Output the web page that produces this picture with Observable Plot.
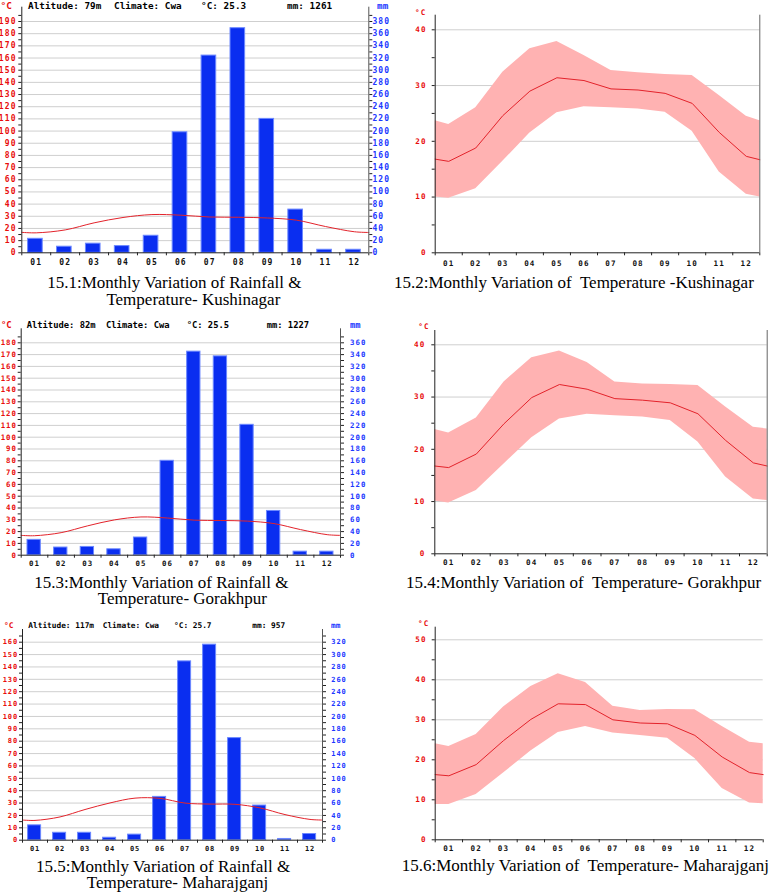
<!DOCTYPE html>
<html>
<head>
<meta charset="utf-8">
<script src="https://cdn.jsdelivr.net/npm/d3@7"></script>
<script src="https://cdn.jsdelivr.net/npm/@observablehq/plot@0.6"></script>
<style>
  html, body { margin: 0; padding: 0; background: #fff; }
  #root { position: relative; width: 774px; height: 893px; overflow: hidden; background: #fff; }
  #root > svg { position: absolute; }
  .mono { position: absolute; font-family: "DejaVu Sans Mono", monospace; font-weight: bold; line-height: 1; white-space: pre; }
  .cap { position: absolute; font-family: "Liberation Serif", "Times New Roman", serif; font-size: 17px; white-space: pre; color: #000; }
</style>
</head>
<body>
<div id="root"></div>
<script>
// ---------------- DATA ----------------
const months = ["01", "02", "03", "04", "05", "06", "07", "08", "09", "10", "11", "12"];
const monthIdx = [1, 2, 3, 4, 5, 6, 7, 8, 9, 10, 11, 12];
// temperature curves run from the left frame edge (0.5) through month centres to the right edge (12.5)
const curvePos = [0.5, 1, 2, 3, 4, 5, 6, 7, 8, 9, 10, 11, 12, 12.5];

// Kushinagar
const kushInfo = ["Altitude: 79m", "Climate: Cwa", "°C: 25.3", "mm: 1261"];
const kushRain = [23, 10, 15, 11, 28, 198, 324, 369, 220, 71, 5, 5];            // mm
const kushMax  = [23.7, 23.0, 26.0, 32.4, 36.6, 37.9, 35.4, 32.7, 32.3, 32.0, 31.8, 28.2, 24.5, 23.7];
const kushMean = [16.8, 16.4, 18.8, 24.6, 29.0, 31.4, 30.9, 29.4, 29.2, 28.6, 26.8, 21.6, 17.3, 16.7];
const kushMin  = [10.0, 9.8, 11.5, 16.4, 21.5, 25.1, 26.2, 26.0, 25.8, 25.2, 21.8, 14.5, 10.5, 10.0];

// Gorakhpur
const gorInfo = ["Altitude: 82m", "Climate: Cwa", "°C: 25.5", "mm: 1227"];
const gorRain = [26, 13, 14, 10, 30, 160, 345, 337, 221, 75, 6, 6];
const gorMax  = [23.8, 23.1, 26.0, 32.9, 37.5, 38.8, 36.6, 32.9, 32.5, 32.4, 32.2, 28.1, 24.2, 23.9];
const gorMean = [16.8, 16.5, 19.1, 24.9, 29.9, 32.4, 31.5, 29.7, 29.4, 28.9, 26.8, 21.7, 17.4, 16.8];
const gorMin  = [10.1, 9.7, 12.1, 17.2, 22.2, 25.8, 26.7, 26.4, 26.2, 25.5, 21.4, 14.7, 10.5, 10.2];

// Maharajganj
const mahInfo = ["Altitude: 117m", "Climate: Cwa", "°C: 25.7", "mm: 957"];
const mahRain = [24, 12, 12, 4, 9, 70, 289, 316, 165, 56, 2, 10];
const mahMax  = [24.0, 23.3, 26.3, 33.2, 38.3, 41.5, 39.3, 33.4, 32.3, 32.6, 32.5, 28.3, 24.4, 24.0];
const mahMean = [16.3, 16.0, 18.8, 24.8, 30.1, 34.0, 33.8, 30.0, 29.2, 29.0, 26.1, 20.7, 16.8, 16.3];
const mahMin  = [8.8, 8.8, 11.3, 16.7, 22.2, 26.8, 28.3, 26.7, 26.1, 25.4, 20.3, 12.8, 9.2, 9.0];

const captions = {
  c1: ["15.1:Monthly Variation of Rainfall &", "Temperature- Kushinagar"],
  c2: ["15.2:Monthly Variation of  Temperature -Kushinagar"],
  c3: ["15.3:Monthly Variation of Rainfall &", "Temperature- Gorakhpur"],
  c4: ["15.4:Monthly Variation of  Temperature- Gorakhpur"],
  c5: ["15.5:Monthly Variation of Rainfall &", "Temperature- Maharajganj"],
  c6: ["15.6:Monthly Variation of  Temperature- Maharajganj"]
};

// ---------------- STYLE ----------------
const RED = "#e80c0c", BLUE = "#1c38ff", BAR = "#0a2ef0", BAR_EDGE = "#6c88ff";
const BAND = "#ffb2b2", LINE = "#e3232b", GRID = "#cfcfcf", AXIS = "#222";
const root = document.getElementById("root");

function monoLabel(text, x, cy, fs, color, ls) {
  const d = document.createElement("div");
  d.className = "mono";
  d.textContent = text;
  Object.assign(d.style, {left: x + "px", top: (cy - fs / 2) + "px", fontSize: fs + "px", color, letterSpacing: ls + "px"});
  root.append(d);
}
// caption: first-line baseline at `baseline`; a second line (if any) is indented by `indent` spaces
function caption(lines, x, baseline, lh = 16, indent = 0, fs = 17) {
  const d = document.createElement("div");
  d.className = "cap";
  d.textContent = lines[0] + (lines[1] ? "\n" + " ".repeat(indent) + lines[1] : "");
  const top = baseline - (0.891 * fs + (lh - 1.107 * fs) / 2);
  Object.assign(d.style, {left: x + "px", top: top + "px", fontSize: fs + "px", lineHeight: lh + "px"});
  root.append(d);
}
function place(svg, left, top) {
  svg.style.left = left + "px";
  svg.style.top = top + "px";
  root.append(svg);
}
// tick marks only / labels only, built from the library's axis mark
const tickOnlyY = (anchor, ticks) => Plot.axisY({anchor, ticks, tickSize: 3, tickFormat: () => "", stroke: AXIS, label: null});
const textOnlyY = (anchor, ticks, pad, fill, fs, fmt) => Plot.axisY({anchor, ticks, tickSize: 0, tickPadding: 3 + pad, fill, fontSize: fs, label: null, ...(fmt ? {tickFormat: fmt} : {})});
const tickOnlyX = () => Plot.axisX({anchor: "bottom", ticks: d3.range(0.5, 13, 1), tickSize: 3, tickFormat: () => "", stroke: AXIS, label: null});
const textOnlyX = (pad, fs) => Plot.axisX({anchor: "bottom", ticks: monthIdx, tickSize: 0, tickPadding: pad, fill: "#111", fontSize: fs, label: null, tickFormat: d => months[d - 1]});

function climatePanel(L, rain, mean) {
  const k = (L.zeroY - L.topTickY) / L.topTick;
  const yMax = (L.zeroY - L.axTop) / k;
  const majors = d3.range(0, L.topTick + 1, 10);
  const minors = d3.range(5, yMax, 10);
  const bars = monthIdx.map((m, i) => ({m, mm: rain[i]}));
  const curve = curvePos.map((p, i) => ({p, t: mean[i]}));
  const svg = Plot.plot({
    width: L.width, height: L.height,
    marginLeft: L.axL - L.left, marginRight: L.left + L.width - L.axR,
    marginTop: L.axTop - L.top, marginBottom: L.top + L.height - L.zeroY,
    x: {type: "linear", domain: [0.5, 12.5], axis: null},
    y: {type: "linear", domain: [0, yMax], axis: null},
    style: {fontFamily: "'DejaVu Sans Mono', monospace", fontWeight: "bold", letterSpacing: L.ls + "px", background: "transparent", overflow: "visible"},
    marks: [
      Plot.gridY(majors.slice(1), {stroke: GRID, strokeOpacity: 1, strokeWidth: 1}),
      Plot.rect(bars, {x1: d => d.m - 0.5, x2: d => d.m + 0.5, y1: () => 0, y2: d => d.mm / 2,
        insetLeft: L.insL, insetRight: L.insR, fill: BAR, stroke: BAR_EDGE, strokeWidth: 1}),
      Plot.line(curve, {x: "p", y: "t", stroke: LINE, strokeWidth: 1, curve: "catmull-rom"}),
      Plot.ruleX([0.5], {stroke: AXIS}),
      Plot.ruleX([12.5], {stroke: "#555"}),
      Plot.ruleY([0], {stroke: AXIS}),
      tickOnlyY("left", majors.concat(minors)),
      textOnlyY("left", majors, L.lPad, RED, L.fs),
      tickOnlyY("right", majors.concat(minors)),
      textOnlyY("right", majors, L.rPad, BLUE, L.fs, d => String(d * 2)),
      tickOnlyX(),
      textOnlyX(L.xPad, L.fs)
    ]
  });
  place(svg, L.left, L.top);
  monoLabel("°C", L.cX, L.hY, L.hfs, RED, L.hls);
  monoLabel("mm", L.mmX, L.hY, L.hfs, BLUE, L.hls);
  L.info.forEach((t, i) => monoLabel(t, L.infoX[i], L.hY, L.hfs, "#000", L.hls));
}

function tempPanel(L, tmax, tmean, tmin) {
  const k = (L.zeroY - L.topTickY) / L.topTick;
  const yMax = (L.zeroY - L.axTop) / k;
  const majors = d3.range(0, L.topTick + 1, 10);
  const minors = d3.range(5, yMax, 10);
  const rows = curvePos.map((p, i) => ({p, hi: tmax[i], mid: tmean[i], lo: tmin[i]}));
  const marks = [
    Plot.gridY(majors.slice(1), {stroke: GRID, strokeOpacity: 1, strokeWidth: 1}),
    Plot.area(rows, {x1: "p", y1: "lo", y2: "hi", fill: BAND, fillOpacity: 1}),
    Plot.line(rows, {x: "p", y: "mid", stroke: LINE, strokeWidth: 1}),
    Plot.ruleX([0.5], {stroke: AXIS}),
    Plot.ruleY([0], {stroke: AXIS}),
    tickOnlyY("left", majors.concat(minors)),
    textOnlyY("left", majors, L.lPad, RED, L.fs),
    tickOnlyX(),
    textOnlyX(L.xPad, L.fs)
  ];
  if (L.rightLine) marks.push(Plot.ruleX([12.5], {stroke: "#666"}));
  const svg = Plot.plot({
    width: L.width, height: L.height,
    marginLeft: L.axL - L.left, marginRight: L.left + L.width - L.axR,
    marginTop: L.axTop - L.top, marginBottom: L.top + L.height - L.zeroY,
    x: {type: "linear", domain: [0.5, 12.5], axis: null},
    y: {type: "linear", domain: [0, yMax], axis: null},
    style: {fontFamily: "'DejaVu Sans Mono', monospace", fontWeight: "bold", letterSpacing: L.ls + "px", background: "transparent", overflow: "visible"},
    marks
  });
  place(svg, L.left, L.top);
  monoLabel("°C", L.cX, L.cY, L.fs, RED, L.ls);
}

// ---------------- PANELS ----------------
climatePanel({left: 0, top: 0, width: 390, height: 272, axL: 21.3, axR: 368.3, axTop: 6.7, zeroY: 252.3,
  topTick: 190, topTickY: 21, insL: 6.3, insR: 8, fs: 8, ls: 1.1, lPad: 2.2, rPad: 0.6, xPad: 6.6,
  hY: 5.2, hfs: 9.3, hls: 0.05, cX: 0.5, mmX: 377, info: kushInfo, infoX: [28, 114, 201, 287]}, kushRain, kushMean);

climatePanel({left: 0, top: 310, width: 390, height: 270, axL: 20.7, axR: 340, axTop: 328.3, zeroY: 554.7,
  topTick: 180, topTickY: 342.3, insL: 6.3, insR: 7, fs: 7.4, ls: 1.0, lPad: 1.2, rPad: 6.5, xPad: 5.8,
  hY: 325.5, hfs: 8.8, hls: 0, cX: 1, mmX: 350, info: gorInfo, infoX: [26.7, 106, 186.7, 266.7]}, gorRain, gorMean);

climatePanel({left: 0, top: 610, width: 390, height: 250, axL: 22, axR: 322, axTop: 629, zeroY: 839.7,
  topTick: 160, topTickY: 641.7, insL: 5.6, insR: 6.4, fs: 7, ls: 0.9, lPad: 1.4, rPad: 5.8, xPad: 5.9,
  hY: 626, hfs: 7.8, hls: 0, cX: 4, mmX: 331, info: mahInfo, infoX: [28.3, 102.7, 174, 252.3]}, mahRain, mahMean);

tempPanel({left: 390, top: 0, width: 384, height: 272, axL: 434.7, axR: 759.3, axTop: 14.7, zeroY: 252.3,
  topTick: 40, topTickY: 29.3, fs: 7.6, ls: 1.1, lPad: 5.5, xPad: 7.4, rightLine: true, cX: 415, cY: 12.3},
  kushMax, kushMean, kushMin);

tempPanel({left: 390, top: 310, width: 384, height: 270, axL: 434.3, axR: 766.7, axTop: 330, zeroY: 553.3,
  topTick: 40, topTickY: 344.3, fs: 7.6, ls: 1.1, lPad: 6.5, xPad: 6.2, rightLine: true, cX: 418.3, cY: 326.7},
  gorMax, gorMean, gorMin);

tempPanel({left: 390, top: 610, width: 384, height: 250, axL: 434.7, axR: 762.7, axTop: 626.7, zeroY: 839.3,
  topTick: 50, topTickY: 639.3, fs: 7.6, ls: 1.1, lPad: 5.5, xPad: 6.2, rightLine: false, cX: 418, cY: 623.3},
  mahMax, mahMean, mahMin);

// ---------------- CAPTIONS ----------------
caption(captions.c1, 47.2, 289, 16.5, 14);
caption(captions.c2, 394, 288.3);
caption(captions.c3, 34.3, 588.7, 15.6, 15);
caption(captions.c4, 406, 588.3);
caption(captions.c5, 36, 872.7, 15.6, 12);
caption(captions.c6, 401.7, 871.7);
</script>
</body>
</html>
